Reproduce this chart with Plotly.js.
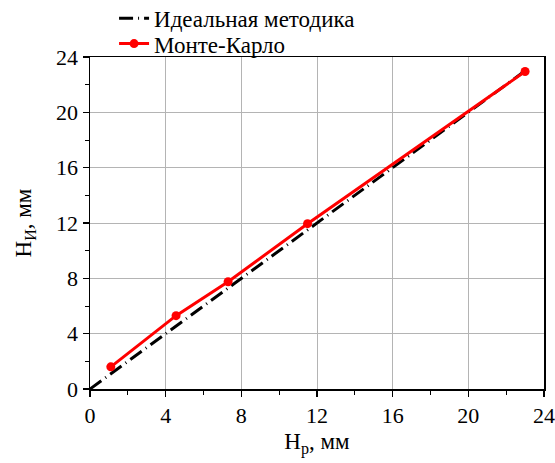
<!DOCTYPE html>
<html>
<head>
<meta charset="utf-8">
<script src="https://cdn.plot.ly/plotly-3.0.1.min.js"></script>
<style>
html,body{margin:0;padding:0;background:#fff;}
#chart{width:555px;height:463px;}
</style>
</head>
<body>
<div id="chart"></div>
<script>
const idealX = [0, 23];
const idealY = [0, 23];
const mcX = [1.1, 4.55, 7.3, 11.5, 23.0];
const mcY = [1.6, 5.3, 7.75, 11.95, 22.95];
const tickVals = [0, 4, 8, 12, 16, 20, 24];
const tickText = ["0", "4", "8", "12", "16", "20", "24"];

const font = "Liberation Serif";

const traces = [
  {
    x: idealX, y: idealY, type: "scatter", mode: "lines",
    name: "Идеальная методика", legend: "legend",
    line: {color: "#000000", width: 3, dash: "14px,5px,1px,5px"}
  },
  {
    x: mcX, y: mcY, type: "scatter", mode: "lines+markers",
    name: "Монте-Карло", legend: "legend2",
    line: {color: "#ff0000", width: 3},
    marker: {color: "#ff0000", size: 9}
  }
];

const axisCommon = {
  range: [0, 24],
  tickvals: tickVals,
  ticktext: tickText,
  showgrid: true,
  gridcolor: "#b4b4b4",
  gridwidth: 1,
  zeroline: false,
  showline: true,
  linecolor: "#000000",
  linewidth: 1.5,
  mirror: true,
  ticks: "outside",
  ticklen: 6,
  tickwidth: 1.5,
  tickcolor: "#000000",
  tickfont: {family: font, size: 22, color: "#000000"},
  automargin: true,
  minor: {dtick: 2, ticks: "outside", ticklen: 4, tickwidth: 1, tickcolor: "#000000", showgrid: false}
};

const layout = {
  width: 555, height: 463,
  margin: {l: 90, r: 11, t: 57, b: 74, autoexpand: false},
  paper_bgcolor: "#ffffff",
  plot_bgcolor: "#ffffff",
  font: {family: font, size: 23, color: "#000000"},
  showlegend: true,
  legend: {
    x: 0.053, y: 1.181, xanchor: "left", yanchor: "top",
    bgcolor: "rgba(0,0,0,0)",
    font: {family: font, size: 23, color: "#000000"},
    itemwidth: 30
  },
  legend2: {
    x: 0.053, y: 1.105, xanchor: "left", yanchor: "top",
    bgcolor: "rgba(0,0,0,0)",
    font: {family: font, size: 23, color: "#000000"},
    itemwidth: 30
  },
  xaxis: Object.assign({}, axisCommon, {
    title: {text: "H<sub>p</sub>, мм", font: {family: font, size: 23, color: "#000000"}, standoff: 6}
  }),
  yaxis: Object.assign({}, axisCommon, {
    title: {text: "H<sub>И</sub>, мм", font: {family: font, size: 23, color: "#000000"}, standoff: 18}
  })
};

Plotly.newPlot("chart", traces, layout, {displayModeBar: false, staticPlot: true});
</script>
</body>
</html>
